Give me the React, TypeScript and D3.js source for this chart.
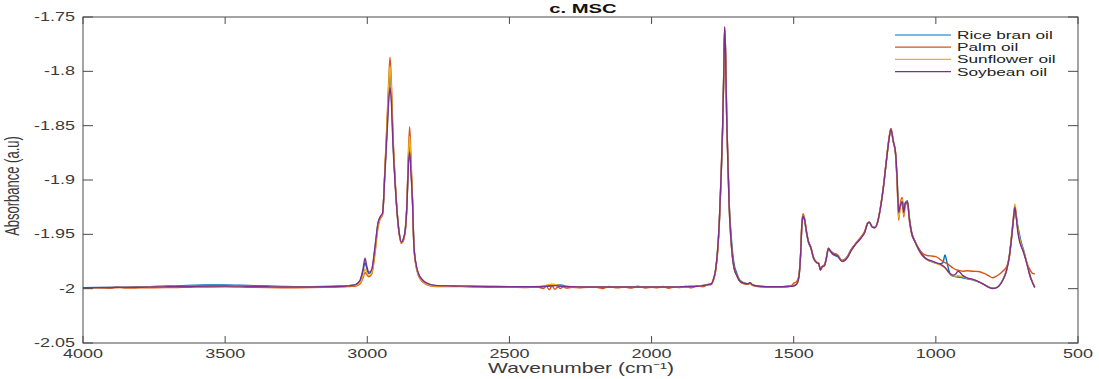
import React from 'react';
import * as d3 from 'd3';

// wavenumber grid (cm-1), shared by all four spectra
const wavenumber = [
  // baseline 4000-3060
  4000, 3950, 3900, 3880, 3850, 3800, 3750, 3700, 3650, 3600,
  3550, 3500, 3450, 3400, 3350, 3300, 3250, 3200, 3150, 3100,
  3075, 3060,
  // C-H stretch
  3040, 3025, 3015, 3008, 3002, 2995, 2985, 2973, 2962, 2955,
  2946, 2938, 2930, 2924, 2920, 2915, 2910, 2904, 2895, 2887,
  2880, 2873, 2866, 2860, 2856, 2851, 2846, 2841, 2836, 2828,
  2820, 2805, 2790, 2760,
  // flat middle
  2700, 2650, 2600, 2550, 2500, 2450, 2400, 2380, 2370, 2360,
  2350, 2340, 2330, 2320, 2310, 2300, 2280, 2250, 2200, 2170,
  2150, 2120, 2100, 2070, 2050, 2020, 2000, 1980, 1960, 1940,
  1920, 1900, 1880, 1860, 1840, 1820, 1805,
  // carbonyl
  1790, 1782, 1775, 1768, 1762, 1756, 1750, 1746, 1743, 1740,
  1736, 1732, 1727, 1722, 1716, 1710, 1700, 1690, 1675, 1660,
  1654, 1645, 1620, 1580, 1540, 1510,
  // fingerprint
  1500, 1490, 1482, 1476, 1471, 1467, 1462, 1455, 1448, 1440,
  1430, 1420, 1412, 1406, 1400, 1392, 1385, 1378, 1372, 1362,
  1345, 1330, 1320, 1310, 1300, 1285, 1275, 1262, 1250, 1240,
  1234, 1225, 1215, 1205, 1195, 1185, 1175, 1165, 1158, 1150,
  1142, 1136, 1131, 1124, 1118, 1113, 1108, 1100, 1093, 1085,
  1075, 1060, 1045, 1030, 1015, 1000, 985, 975, 968, 960,
  950, 940, 930, 922, 915, 905, 890, 870, 850, 830,
  815, 800, 790, 778, 765, 752, 742, 735, 728, 722,
  717, 712, 706, 700, 692, 684, 676, 668, 660, 652,
];

const riceBran = [
  -1.9990, -1.9989, -1.9988, -1.9987, -1.9986, -1.9984, -1.9980, -1.9976, -1.9972, -1.9968,
  -1.9966, -1.9965, -1.9968, -1.9972, -1.9976, -1.9979, -1.9981, -1.9981, -1.9980, -1.9977,
  -1.9974, -1.9971,
  -1.9962, -1.9925, -1.9840, -1.9760, -1.9810, -1.9860, -1.9840, -1.9630, -1.9400, -1.9345,
  -1.9305, -1.8920, -1.8500, -1.8170, -1.8030, -1.8220, -1.8600, -1.8930, -1.9300, -1.9500,
  -1.9575, -1.9545, -1.9450, -1.9190, -1.8860, -1.8660, -1.8900, -1.9190, -1.9600, -1.9790,
  -1.9865, -1.9925, -1.9955, -1.9972,
  -1.9976, -1.9978, -1.9980, -1.9981, -1.9982, -1.9982, -1.9982, -1.9980, -1.9978, -1.9976,
  -1.9974, -1.9970, -1.9966, -1.9966, -1.9970, -1.9978, -1.9982, -1.9984, -1.9985, -1.9985,
  -1.9985, -1.9985, -1.9985, -1.9985, -1.9985, -1.9985, -1.9985, -1.9985, -1.9985, -1.9985,
  -1.9984, -1.9983, -1.9982, -1.9980, -1.9977, -1.9970, -1.9962,
  -1.9955, -1.9912, -1.9835, -1.9660, -1.9410, -1.9010, -1.8510, -1.8010, -1.7600, -1.7790,
  -1.8380, -1.8770, -1.9200, -1.9440, -1.9640, -1.9770, -1.9860, -1.9920, -1.9948, -1.9955,
  -1.9948, -1.9966, -1.9978, -1.9982, -1.9982, -1.9978,
  -1.9972, -1.9958, -1.9895, -1.9700, -1.9410, -1.9340, -1.9370, -1.9490, -1.9575, -1.9625,
  -1.9720, -1.9755, -1.9770, -1.9820, -1.9795, -1.9785, -1.9715, -1.9635, -1.9655, -1.9685,
  -1.9705, -1.9740, -1.9730, -1.9700, -1.9650, -1.9595, -1.9565, -1.9525, -1.9475, -1.9395,
  -1.9385, -1.9425, -1.9435, -1.9385, -1.9255, -1.9075, -1.8845, -1.8625, -1.8535, -1.8645,
  -1.8750, -1.9010, -1.9280, -1.9240, -1.9190, -1.9280, -1.9210, -1.9190, -1.9350, -1.9480,
  -1.9555, -1.9640, -1.9700, -1.9735, -1.9750, -1.9765, -1.9770, -1.9760, -1.9690, -1.9770,
  -1.9865, -1.9885, -1.9890, -1.9892, -1.9895, -1.9900, -1.9910, -1.9920, -1.9938, -1.9962,
  -1.9984, -1.9996, -1.9993, -1.9972, -1.9920, -1.9835, -1.9705, -1.9555, -1.9390, -1.9270,
  -1.9330, -1.9420, -1.9500, -1.9570, -1.9640, -1.9720, -1.9805, -1.9885, -1.9940, -1.9985,
];

const palm = [
  -1.9995, -1.9992, -1.9996, -1.9985, -1.9995, -1.9993, -1.9991, -1.9990, -1.9988, -1.9986,
  -1.9984, -1.9983, -1.9985, -1.9988, -1.9990, -1.9991, -1.9991, -1.9990, -1.9988, -1.9985,
  -1.9982, -1.9980,
  -1.9975, -1.9955, -1.9900, -1.9850, -1.9870, -1.9890, -1.9870, -1.9680, -1.9430, -1.9360,
  -1.9320, -1.8900, -1.8420, -1.8050, -1.7870, -1.8120, -1.8550, -1.8900, -1.9300, -1.9510,
  -1.9585, -1.9560, -1.9460, -1.9180, -1.8800, -1.8510, -1.8820, -1.9170, -1.9610, -1.9800,
  -1.9880, -1.9940, -1.9965, -1.9980,
  -1.9980, -1.9983, -1.9985, -1.9988, -1.9987, -1.9990, -1.9985, -1.9998, -1.9978, -2.0010,
  -1.9975, -2.0005, -1.9985, -1.9998, -1.9982, -1.9995, -1.9988, -1.9992, -1.9985, -1.9998,
  -1.9980, -1.9993, -1.9986, -1.9995, -1.9978, -1.9994, -1.9987, -1.9992, -1.9980, -1.9996,
  -1.9984, -1.9990, -1.9978, -1.9993, -1.9976, -1.9982, -1.9968,
  -1.9962, -1.9918, -1.9840, -1.9670, -1.9420, -1.9030, -1.8540, -1.8050, -1.7620, -1.7790,
  -1.8370, -1.8780, -1.9230, -1.9490, -1.9690, -1.9805, -1.9880, -1.9932, -1.9955, -1.9960,
  -1.9950, -1.9970, -1.9982, -1.9985, -1.9984, -1.9975,
  -1.9950, -1.9935, -1.9880, -1.9690, -1.9380, -1.9310, -1.9350, -1.9470, -1.9565, -1.9615,
  -1.9715, -1.9755, -1.9765, -1.9825, -1.9795, -1.9780, -1.9715, -1.9625, -1.9645, -1.9670,
  -1.9690, -1.9740, -1.9730, -1.9700, -1.9650, -1.9595, -1.9560, -1.9520, -1.9470, -1.9395,
  -1.9390, -1.9430, -1.9440, -1.9390, -1.9255, -1.9070, -1.8840, -1.8620, -1.8525, -1.8640,
  -1.8760, -1.9050, -1.9370, -1.9200, -1.9160, -1.9340, -1.9240, -1.9210, -1.9380, -1.9500,
  -1.9560, -1.9630, -1.9680, -1.9695, -1.9700, -1.9705, -1.9730, -1.9750, -1.9760, -1.9770,
  -1.9790, -1.9810, -1.9825, -1.9830, -1.9835, -1.9840, -1.9835, -1.9840, -1.9842, -1.9860,
  -1.9880, -1.9900, -1.9890, -1.9870, -1.9840, -1.9800, -1.9720, -1.9570, -1.9380, -1.9240,
  -1.9340, -1.9450, -1.9540, -1.9600, -1.9660, -1.9730, -1.9790, -1.9830, -1.9860, -1.9865,
];

const sunflower = [
  -1.9991, -1.9990, -1.9990, -1.9989, -1.9988, -1.9987, -1.9985, -1.9982, -1.9979, -1.9976,
  -1.9974, -1.9973, -1.9975, -1.9979, -1.9982, -1.9984, -1.9985, -1.9984, -1.9982, -1.9978,
  -1.9975, -1.9972,
  -1.9970, -1.9945, -1.9880, -1.9820, -1.9850, -1.9880, -1.9860, -1.9660, -1.9420, -1.9350,
  -1.9310, -1.8910, -1.8460, -1.8100, -1.7950, -1.8170, -1.8580, -1.8910, -1.9300, -1.9505,
  -1.9580, -1.9550, -1.9455, -1.9185, -1.8830, -1.8600, -1.8860, -1.9180, -1.9605, -1.9795,
  -1.9870, -1.9930, -1.9960, -1.9975,
  -1.9976, -1.9978, -1.9979, -1.9980, -1.9981, -1.9982, -1.9980, -1.9975, -1.9968, -1.9962,
  -1.9960, -1.9962, -1.9968, -1.9975, -1.9980, -1.9982, -1.9983, -1.9984, -1.9985, -1.9985,
  -1.9985, -1.9985, -1.9985, -1.9985, -1.9985, -1.9985, -1.9985, -1.9985, -1.9985, -1.9985,
  -1.9984, -1.9983, -1.9982, -1.9980, -1.9978, -1.9972, -1.9964,
  -1.9956, -1.9911, -1.9832, -1.9655, -1.9405, -1.9005, -1.8505, -1.8005, -1.7595, -1.7795,
  -1.8395, -1.8795, -1.9245, -1.9495, -1.9695, -1.9808, -1.9878, -1.9930, -1.9950, -1.9955,
  -1.9946, -1.9965, -1.9978, -1.9982, -1.9982, -1.9978,
  -1.9972, -1.9957, -1.9897, -1.9698, -1.9395, -1.9325, -1.9355, -1.9478, -1.9568, -1.9618,
  -1.9718, -1.9758, -1.9768, -1.9828, -1.9798, -1.9788, -1.9718, -1.9628, -1.9648, -1.9678,
  -1.9698, -1.9748, -1.9738, -1.9708, -1.9658, -1.9598, -1.9568, -1.9528, -1.9478, -1.9398,
  -1.9388, -1.9428, -1.9438, -1.9388, -1.9258, -1.9078, -1.8848, -1.8628, -1.8528, -1.8638,
  -1.8745, -1.9030, -1.9350, -1.9230, -1.9180, -1.9320, -1.9230, -1.9200, -1.9360, -1.9490,
  -1.9560, -1.9645, -1.9705, -1.9735, -1.9752, -1.9768, -1.9782, -1.9795, -1.9808, -1.9835,
  -1.9865, -1.9880, -1.9885, -1.9880, -1.9885, -1.9892, -1.9905, -1.9918, -1.9936, -1.9962,
  -1.9984, -1.9996, -1.9993, -1.9973, -1.9922, -1.9835, -1.9700, -1.9545, -1.9360, -1.9220,
  -1.9320, -1.9440, -1.9530, -1.9590, -1.9650, -1.9725, -1.9805, -1.9885, -1.9940, -1.9988,
];

const soybean = [
  -1.9990, -1.9990, -1.9989, -1.9989, -1.9988, -1.9987, -1.9985, -1.9983, -1.9980, -1.9978,
  -1.9976, -1.9975, -1.9977, -1.9980, -1.9983, -1.9985, -1.9985, -1.9984, -1.9982, -1.9978,
  -1.9975, -1.9972,
  -1.9960, -1.9920, -1.9820, -1.9720, -1.9790, -1.9850, -1.9830, -1.9620, -1.9390, -1.9340,
  -1.9300, -1.8940, -1.8550, -1.8250, -1.8150, -1.8300, -1.8650, -1.8950, -1.9300, -1.9500,
  -1.9570, -1.9540, -1.9450, -1.9200, -1.8900, -1.8740, -1.8950, -1.9200, -1.9600, -1.9780,
  -1.9860, -1.9920, -1.9950, -1.9970,
  -1.9975, -1.9977, -1.9979, -1.9980, -1.9981, -1.9982, -1.9982, -1.9980, -1.9978, -1.9975,
  -1.9972, -1.9972, -1.9975, -1.9978, -1.9980, -1.9982, -1.9983, -1.9984, -1.9985, -1.9985,
  -1.9985, -1.9985, -1.9985, -1.9985, -1.9985, -1.9985, -1.9985, -1.9985, -1.9985, -1.9985,
  -1.9984, -1.9983, -1.9982, -1.9980, -1.9978, -1.9972, -1.9965,
  -1.9955, -1.9910, -1.9830, -1.9650, -1.9400, -1.9000, -1.8500, -1.8000, -1.7590, -1.7800,
  -1.8400, -1.8800, -1.9250, -1.9500, -1.9700, -1.9810, -1.9880, -1.9930, -1.9950, -1.9955,
  -1.9945, -1.9965, -1.9978, -1.9982, -1.9982, -1.9978,
  -1.9975, -1.9960, -1.9900, -1.9700, -1.9400, -1.9330, -1.9360, -1.9480, -1.9570, -1.9620,
  -1.9720, -1.9760, -1.9770, -1.9830, -1.9800, -1.9790, -1.9720, -1.9630, -1.9650, -1.9680,
  -1.9700, -1.9750, -1.9740, -1.9710, -1.9660, -1.9600, -1.9570, -1.9530, -1.9480, -1.9400,
  -1.9390, -1.9430, -1.9440, -1.9390, -1.9260, -1.9080, -1.8850, -1.8630, -1.8530, -1.8640,
  -1.8740, -1.9000, -1.9300, -1.9220, -1.9200, -1.9300, -1.9220, -1.9200, -1.9360, -1.9490,
  -1.9560, -1.9640, -1.9700, -1.9730, -1.9745, -1.9760, -1.9775, -1.9790, -1.9805, -1.9830,
  -1.9860, -1.9875, -1.9865, -1.9840, -1.9850, -1.9880, -1.9900, -1.9915, -1.9935, -1.9962,
  -1.9985, -1.9998, -1.9995, -1.9975, -1.9925, -1.9840, -1.9710, -1.9560, -1.9380, -1.9250,
  -1.9350, -1.9470, -1.9560, -1.9610, -1.9660, -1.9730, -1.9810, -1.9890, -1.9945, -1.9990,
];

const seriesNames = ['Rice bran oil', 'Palm oil', 'Sunflower oil', 'Soybean oil'];
const seriesColors = ['#0072BD', '#D95319', '#EDB120', '#7E2F8E'];
const xTicks = [4000, 3500, 3000, 2500, 2000, 1500, 1000, 500];
const yTicks = [-2.05, -2, -1.95, -1.9, -1.85, -1.8, -1.75];

const FONT = 'Arial, "Liberation Sans", Helvetica, sans-serif';
const SX = 1.5; // the original figure is stretched sideways

export default function App() {
  const width = 1099;
  const height = 379;
  const box = { left: 83, right: 1078, top: 17, bottom: 343 };

  const x = d3.scaleLinear().domain([4000, 500]).range([box.left, box.right]);
  const y = d3.scaleLinear().domain([-2.05, -1.75]).range([box.bottom, box.top]);

  const line = d3.line<number>()
    .x((_, i) => x(wavenumber[i]))
    .y(d => y(d))
    .curve(d3.curveMonotoneX);

  const series = [riceBran, palm, sunflower, soybean];
  const axisColor = '#4a4a4a';
  const textColor = '#3a3a3a';
  const fmt = (v: number) => String(+v.toFixed(2));

  return (
    <svg width={width} height={height} style={{ position: 'absolute', left: 0, top: 0, background: '#fff' }}
      fontFamily={FONT}>
      <defs>
        <clipPath id="plot-clip">
          <rect x={box.left} y={box.top} width={box.right - box.left} height={box.bottom - box.top} />
        </clipPath>
      </defs>

      {/* spectra */}
      <g clipPath="url(#plot-clip)" fill="none">
        {series.map((s, k) => (
          <path key={k} d={line(s) || ''} stroke={seriesColors[k]} strokeWidth={1.4} strokeLinejoin="round" />
        ))}
      </g>

      {/* frame + ticks */}
      <rect x={box.left} y={box.top} width={box.right - box.left} height={box.bottom - box.top}
        fill="none" stroke={axisColor} strokeWidth={1} />
      {xTicks.map(t => (
        <g key={'xt' + t}>
          <line x1={x(t)} x2={x(t)} y1={box.bottom} y2={box.bottom - 7} stroke={axisColor} />
          <line x1={x(t)} x2={x(t)} y1={box.top} y2={box.top + 7} stroke={axisColor} />
          <text transform={`translate(${x(t)},${box.bottom + 15}) scale(${SX},1)`} textAnchor="middle"
            fontSize={12} fill={textColor}>{t}</text>
        </g>
      ))}
      {yTicks.map(t => (
        <g key={'yt' + t}>
          <line x1={box.left} x2={box.left + 10} y1={y(t)} y2={y(t)} stroke={axisColor} />
          <line x1={box.right} x2={box.right - 10} y1={y(t)} y2={y(t)} stroke={axisColor} />
          <text transform={`translate(${box.left - 8},${y(t) + 4}) scale(${SX},1)`} textAnchor="end"
            fontSize={12} fill={textColor}>{fmt(t)}</text>
        </g>
      ))}

      {/* title */}
      <text transform={`translate(583,13) scale(${SX},1)`} textAnchor="middle"
        fontSize={13.5} fontWeight="bold" fill="#111">c. MSC</text>

      {/* axis labels */}
      <text transform={`translate(581,373) scale(${SX},1)`} textAnchor="middle"
        fontSize={14} fill={textColor}>Wavenumber (cm⁻¹)</text>
      <text transform={`translate(19,186) scale(${SX},1) rotate(-90)`} textAnchor="middle"
        fontSize={13} fill={textColor}>Absorbance (a.u)</text>

      {/* legend */}
      {seriesNames.map((name, k) => {
        const ly = 35 + k * 12.2;
        return (
          <g key={name}>
            <line x1={895} x2={951} y1={ly} y2={ly} stroke={seriesColors[k]} strokeWidth={1.2} />
            <text transform={`translate(957,${ly + 4}) scale(${SX},1)`} fontSize={11.5} fill="#222">{name}</text>
          </g>
        );
      })}
    </svg>
  );
}
